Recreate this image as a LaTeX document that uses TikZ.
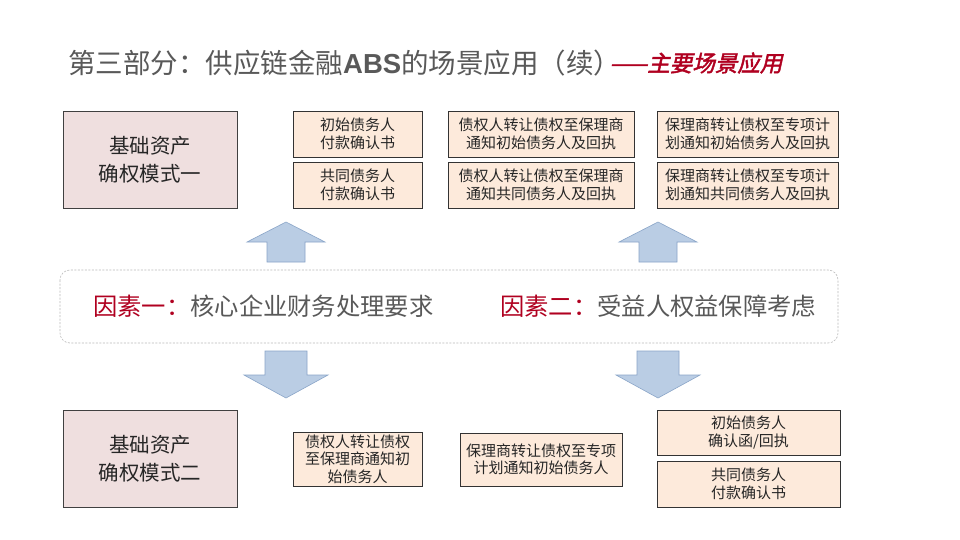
\documentclass[tikz,border=0pt]{standalone}
\usepackage{fontspec}
\setmainfont{Noto Sans CJK SC}
\newfontfamily\cjkred[FakeSlant=0.22,FakeBold=2]{Noto Sans CJK SC}
\newfontfamily\arialf{Liberation Sans}
\definecolor{bigfill}{HTML}{EFDFDF}
\definecolor{smallfill}{HTML}{FDEADB}
\definecolor{txt}{HTML}{262626}
\definecolor{titlegray}{HTML}{595959}
\definecolor{factred}{HTML}{B00020}
\definecolor{arrfill}{HTML}{BACDE4}
\definecolor{arrdraw}{HTML}{8AA5C8}
\begin{document}
\begin{tikzpicture}[x=1pt,y=-1pt,
  bigbox/.style={draw=black!75, line width=0.8pt, fill=bigfill, minimum width=174pt, minimum height=97pt,
    font=\fontsize{20.5}{28}\selectfont, text=txt, align=center, inner sep=0pt},
  smallbox/.style={draw=black!80, line width=0.8pt, fill=smallfill, font=\fontsize{15}{17.5}\selectfont,
    text=txt, align=center, inner sep=0pt},
  factor/.style={anchor=west, font=\fontsize{24.3}{26}\selectfont, text=titlegray, inner sep=0pt},
  blockarrow/.style={fill=arrfill, draw=arrdraw, line width=0.6pt, line join=miter},
  uparrow/.pic={\path[blockarrow] (0,0) -- (39,20) -- (19,20) -- (19,40) -- (-19,40) -- (-19,20) -- (-39,20) -- cycle;},
  downarrow/.pic={\path[blockarrow] (-21,0) -- (21,0) -- (21,24) -- (42,24) -- (0,47) -- (-42,24) -- (-21,24) -- cycle;}
]
\path[use as bounding box, fill=white] (0,0) rectangle (960,540);

% title
\node[anchor=west, inner sep=0pt, text=titlegray, font=\fontsize{27.5}{30}\selectfont] (title) at (68,63)
  {第三部分：供应链金融{\arialf\bfseries ABS}的场景应用（续）};
\node[anchor=west, inner sep=0pt, text=factred, font=\fontsize{22.5}{26}\selectfont] (subtitle) at ([xshift=-12pt]title.east)
  {\cjkred ——主要场景应用};

% top row
\node[bigbox] (big1) at (150,160) {基础资产\\确权模式一};
\node[smallbox, minimum width=129pt, minimum height=46pt] (a1) at (357.5,134) {初始债务人\\付款确认书};
\node[smallbox, minimum width=129pt, minimum height=46pt] (a2) at (357.5,185) {共同债务人\\付款确认书};
\node[smallbox, minimum width=186pt, minimum height=46pt] (b1) at (541,134) {债权人转让债权至保理商\\通知初始债务人及回执};
\node[smallbox, minimum width=186pt, minimum height=46pt] (b2) at (541,185) {债权人转让债权至保理商\\通知共同债务人及回执};
\node[smallbox, minimum width=181pt, minimum height=46pt] (c1) at (747.5,134) {保理商转让债权至专项计\\划通知初始债务人及回执};
\node[smallbox, minimum width=181pt, minimum height=46pt] (c2) at (747.5,185) {保理商转让债权至专项计\\划通知共同债务人及回执};

% arrows up
\pic at (286,222) {uparrow};
\pic at (658,222) {uparrow};

% factor band
\draw[gray!55, line width=0.6pt, dash pattern=on 2pt off 1.5pt, rounded corners=10pt] (60,270) rectangle (838,343);
\node[factor] (f1) at (93,306) {\textcolor{factred}{因素一：}核心企业财务处理要求};
\node[factor] (f2) at (500,306) {\textcolor{factred}{因素二：}受益人权益保障考虑};

% arrows down
\pic at (286,351) {downarrow};
\pic at (658,351) {downarrow};

% bottom row
\node[bigbox] (big2) at (150,458.5) {基础资产\\确权模式二};
\node[smallbox, minimum width=129pt, minimum height=54pt] (d) at (357.5,459) {债权人转让债权\\至保理商通知初\\始债务人};
\node[smallbox, minimum width=162pt, minimum height=53pt] (e) at (541,459.5) {保理商转让债权至专项\\计划通知初始债务人};
\node[smallbox, minimum width=183pt, minimum height=45pt] (f1b) at (748.5,432.5) {初始债务人\\确认函/回执};
\node[smallbox, minimum width=183pt, minimum height=46pt] (f2b) at (748.5,484) {共同债务人\\付款确认书};
\end{tikzpicture}
\end{document}
